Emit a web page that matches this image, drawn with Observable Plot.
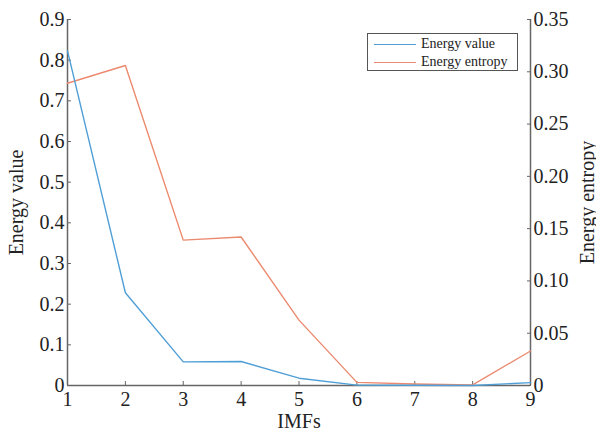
<!DOCTYPE html>
<html><head><meta charset="utf-8">
<script src="https://cdn.jsdelivr.net/npm/d3@7"></script>
<script src="https://cdn.jsdelivr.net/npm/@observablehq/plot@0.6"></script>
<style>
body{margin:0;background:#fff;}
#wrap{position:relative;width:596px;height:433px;}
#legend{position:absolute;left:367px;top:33px;width:151px;height:38px;border:1px solid #555;background:#fff;font-family:"Liberation Serif",serif;font-size:14px;color:#222;box-sizing:border-box;padding:1px 0 0 6px;}
#legend div{display:flex;align-items:center;height:18px;}
#legend span.l{display:inline-block;width:42px;height:0;border-top:1.3px solid;margin-right:5px;}
</style></head>
<body><div id="wrap"><div id="legend"></div></div>
<script>
const imfs = [1,2,3,4,5,6,7,8,9];
const energyValue = [0.823,0.228,0.058,0.059,0.018,0.001,0.0005,0.0,0.007];
const energyEntropy = [0.289,0.306,0.139,0.142,0.0625,0.003,0.0015,0.0005,0.033];
const leftTicks = [0,0.1,0.2,0.3,0.4,0.5,0.6,0.7,0.8,0.9];
const rightTicks = [0,0.05,0.10,0.15,0.20,0.25,0.30,0.35];
const seriesNames = ["Energy value","Energy entropy"];
const colors = ["#4f9fd6","#ec8a6f"];

const ratio = 0.9/0.35;
const valData = imfs.map((x,i)=>({x, y: energyValue[i]}));
const entData = imfs.map((x,i)=>({x, y: energyEntropy[i]*ratio}));
const axisColor = "#666";

const chart = Plot.plot({
  width: 596, height: 433,
  marginLeft: 67, marginRight: 66, marginTop: 19, marginBottom: 48,
  style: {fontFamily: "Liberation Serif, serif", fontSize: "20px", color: "#222", background: "#fff"},
  x: {domain: [1,9]},
  y: {domain: [0,0.9]},
  marks: [
    Plot.axisX({ticks: imfs, tickSize: 0, tickPadding: 6, tickFormat: d=>String(d), label: "IMFs", labelAnchor: "center", labelArrow: "none", labelOffset: 42, fontSize: 20}),
    Plot.axisX({ticks: imfs, tickSize: -4, text: null, label: null, stroke: axisColor}),
    Plot.axisY({anchor: "left", ticks: leftTicks, tickSize: 0, tickPadding: 3, tickFormat: d=>d===0?"0":d.toFixed(1), label: "Energy value", labelAnchor: "center", labelArrow: "none", labelOffset: 59, fontSize: 20}),
    Plot.axisY({anchor: "left", ticks: leftTicks, tickSize: -4, text: null, label: null, stroke: axisColor}),
    Plot.axisY({anchor: "right", ticks: rightTicks.map(t=>t*ratio), tickSize: 0, tickPadding: 3, tickFormat: (d,i)=>rightTicks[i]===0?"0":rightTicks[i].toFixed(2), label: "Energy entropy", labelAnchor: "center", labelArrow: "none", labelOffset: 63, fontSize: 20}),
    Plot.axisY({anchor: "right", ticks: rightTicks.map(t=>t*ratio), tickSize: -4, text: null, label: null, stroke: axisColor}),
    Plot.ruleX([1,9], {stroke: axisColor, strokeWidth: 1.5}),
    Plot.ruleY([0], {stroke: axisColor, strokeWidth: 1.5}),
    Plot.line(entData, {x: "x", y: "y", stroke: colors[1], strokeWidth: 1.4}),
    Plot.line(valData, {x: "x", y: "y", stroke: colors[0], strokeWidth: 1.4})
  ]
});
document.getElementById("wrap").prepend(chart);
const lg = document.getElementById("legend");
seriesNames.forEach((n,i)=>{
  const d = document.createElement("div");
  d.innerHTML = `<span class="l" style="border-color:${colors[i]}"></span>${n}`;
  lg.appendChild(d);
});
</script></body></html>
